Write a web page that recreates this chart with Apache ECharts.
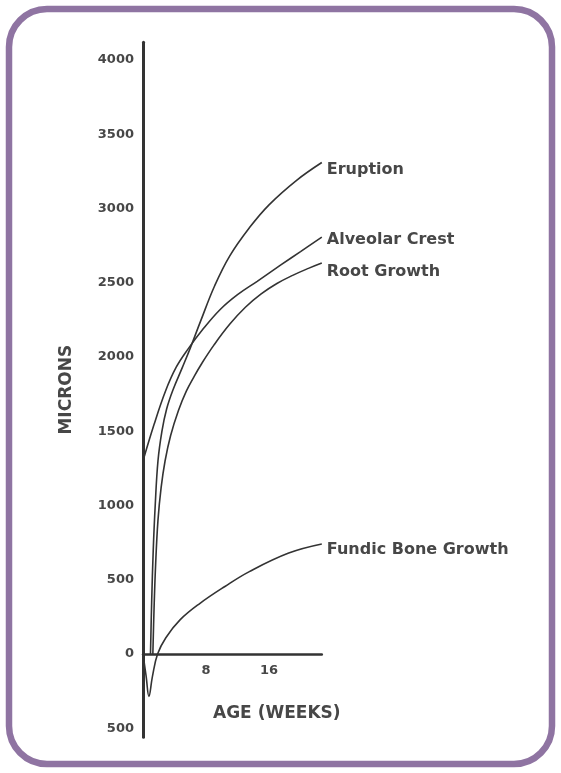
<!DOCTYPE html>
<html>
<head>
<meta charset="utf-8">
<script src="https://cdn.jsdelivr.net/npm/echarts@6/dist/echarts.min.js"></script>
<style>
  html, body { margin: 0; padding: 0; background: #ffffff; }
  #chart { width: 561px; height: 773px; }
</style>
</head>
<body>
<div id="chart"></div>
<script>
// ---- Data (weeks, microns) ----
const seriesNames = ["Eruption", "Alveolar Crest", "Root Growth", "Fundic Bone Growth"];

const eruptionWeeks   = [0.95, 1.1, 1.3, 1.55, 1.9, 2.4, 3.0, 3.8, 5.0, 6.0, 7.3, 9.1, 11.0, 13.5, 16.0, 19.5, 22.7];
const eruptionMicrons = [0, 350, 700, 1000, 1300, 1500, 1650, 1778, 1930, 2060, 2240, 2480, 2680, 2870, 3025, 3190, 3310];

const alveolarWeeks   = [0, 1.4, 2.85, 4.2, 5.8, 7.5, 9.8, 12.0, 14.5, 17.5, 20.0, 22.7];
const alveolarMicrons = [1300, 1545, 1770, 1930, 2060, 2180, 2320, 2420, 2510, 2620, 2710, 2808];

const rootWeeks   = [1.25, 1.4, 1.6, 1.9, 2.3, 2.8, 3.5, 4.5, 5.5, 6.5, 7.5, 9.0, 11.0, 13.0, 15.0, 17.0, 19.0, 21.0, 22.7];
const rootMicrons = [0, 300, 600, 900, 1120, 1300, 1470, 1640, 1770, 1870, 1960, 2080, 2220, 2335, 2425, 2495, 2550, 2597, 2633];

const fundicWeeks   = [0, 0.4, 0.75, 1.2, 1.85, 2.9, 4.7, 7.2, 10.4, 13.5, 18.5, 22.7];
const fundicMicrons = [0, -150, -285, -150, 0, 110, 230, 340, 455, 555, 680, 741];

const yTickValues = [-500, 0, 500, 1000, 1500, 2000, 2500, 3000, 3500, 4000];
const xTickValues = [8, 16];

function zip(xs, ys) { return xs.map((x, i) => [x, ys[i]]); }

const lineColor = '#333333';
const textColor = '#474747';
const fontFam = '"DejaVu Sans", sans-serif';

function mkSeries(name, xs, ys, labelDy) {
  return {
    name: name,
    type: 'line',
    data: zip(xs, ys),
    smooth: 0.4,
    showSymbol: false,
    symbol: 'none',
    clip: false,
    lineStyle: { color: lineColor, width: 1.6 },
    endLabel: {
      show: true,
      formatter: '{a}',
      color: textColor,
      fontFamily: fontFam,
      fontWeight: 'bold',
      fontSize: 16,
      distance: 5,
      offset: [0, labelDy]
    }
  };
}

const chart = echarts.init(document.getElementById('chart'), null, { renderer: 'canvas' });

const gridTop = 42.2, gridHeight = 695;
const yMin = -560, yMax = 4120;
// pixel offset from the grid bottom to the zero line
const zeroOffset = gridHeight * (0 - yMin) / (yMax - yMin);

chart.setOption({
  animation: false,
  backgroundColor: '#ffffff',
  grid: { left: 143, top: gridTop, width: 178.8, height: gridHeight, containLabel: false },
  xAxis: {
    type: 'value',
    min: 0,
    max: 22.7,
    offset: -zeroOffset,
    axisLine: { show: true, onZero: false, lineStyle: { color: lineColor, width: 2.5 } },
    axisTick: { show: false },
    splitLine: { show: false },
    axisLabel: {
      customValues: xTickValues,
      color: textColor,
      fontFamily: fontFam,
      fontWeight: 'bold',
      fontSize: 13,
      margin: 10
    }
  },
  yAxis: {
    type: 'value',
    min: yMin,
    max: yMax,
    name: 'MICRONS',
    nameLocation: 'middle',
    nameRotate: 90,
    nameGap: 68,
    nameTextStyle: {
      color: textColor,
      fontFamily: fontFam,
      fontWeight: 'bold',
      fontSize: 17,
      letterSpacing: 1.8
    },
    axisLine: { show: true, onZero: false, lineStyle: { color: lineColor, width: 3 } },
    axisTick: { show: false },
    splitLine: { show: false },
    axisLabel: {
      customValues: yTickValues,
      formatter: v => String(Math.abs(v)),
      color: textColor,
      fontFamily: fontFam,
      fontWeight: 'bold',
      fontSize: 13,
      margin: 9
    }
  },
  graphic: [
    {
      type: 'rect',
      shape: { x: 9, y: 9, width: 543, height: 755, r: 38 },
      style: { fill: 'none', stroke: '#8f74a2', lineWidth: 6.5 },
      silent: true
    },
    {
      type: 'text',
      left: 213,
      top: 705,
      style: {
        text: 'AGE (WEEKS)',
        fill: textColor,
        font: 'bold 17px "DejaVu Sans", sans-serif',
        letterSpacing: 0.8
      },
      silent: true
    }
  ],
  series: [
    mkSeries(seriesNames[0], eruptionWeeks, eruptionMicrons, 7),
    mkSeries(seriesNames[1], alveolarWeeks, alveolarMicrons, 3),
    mkSeries(seriesNames[2], rootWeeks, rootMicrons, 9),
    mkSeries(seriesNames[3], fundicWeeks, fundicMicrons, 6)
  ]
});
</script>
</body>
</html>
